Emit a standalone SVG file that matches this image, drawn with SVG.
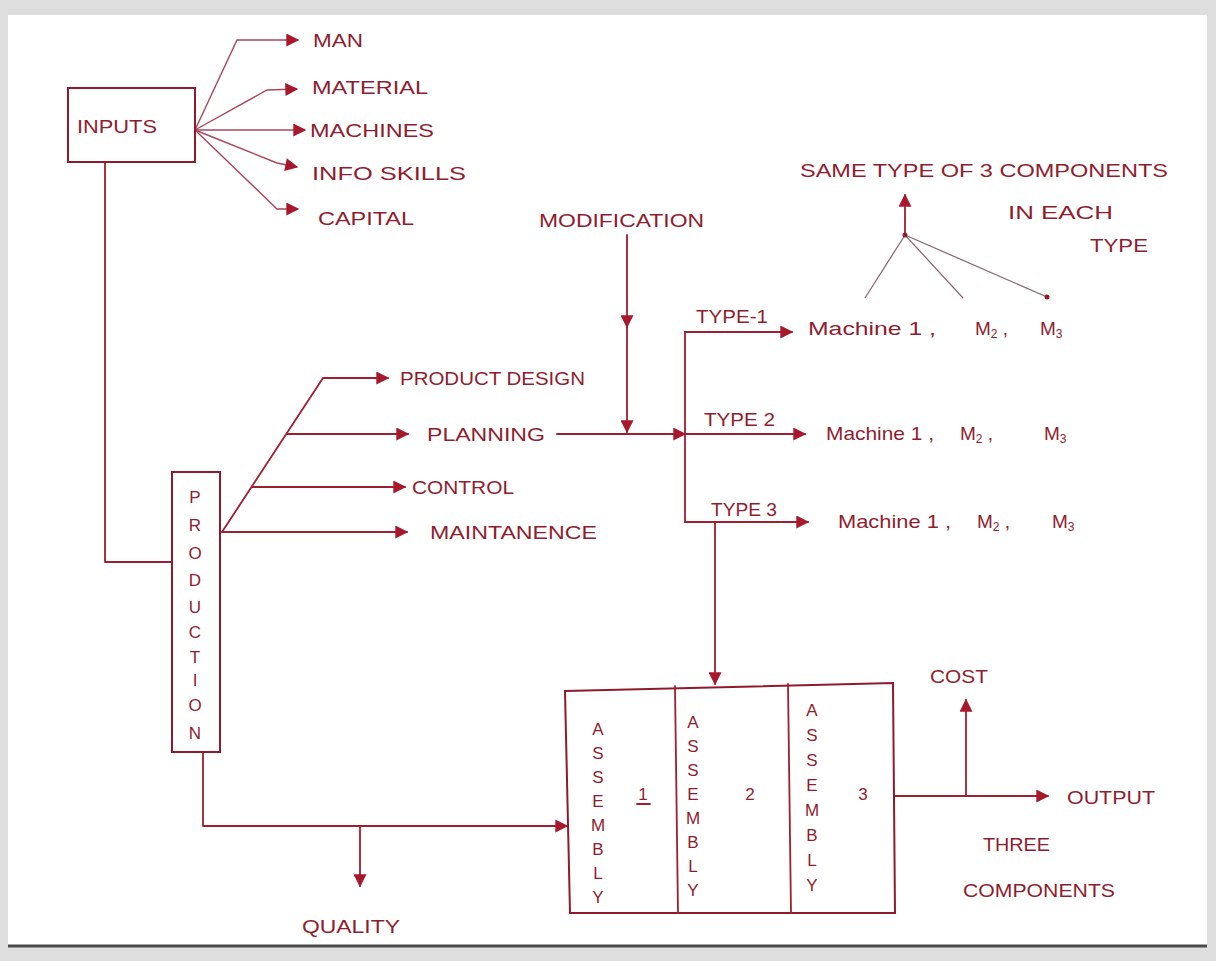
<svg xmlns="http://www.w3.org/2000/svg" width="1216" height="961" viewBox="0 0 1216 961">
<style>
.ln{stroke:#9e1f30;stroke-width:1.8;fill:none;stroke-linecap:round;stroke-linejoin:round}
.lf{stroke:#a8475a;stroke-width:1.4;fill:none}
.lg{stroke:#8d6b73;stroke-width:1.3;fill:none}
.bx{stroke:#8e1a2c;stroke-width:2;fill:#ffffff}
.t{font-family:"Liberation Sans",Arial,sans-serif;fill:#8e1d2f;font-size:18px}
.tc{font-family:"Liberation Sans",Arial,sans-serif;fill:#8e1d2f;font-size:17px;text-anchor:middle}
.tm{font-family:"Liberation Sans",Arial,sans-serif;fill:#8e1d2f;font-size:19px}
.sub{font-size:12px}
.ar{marker-end:url(#ah)}
</style>
<defs>
<marker id="ah" viewBox="0 0 10 10" refX="9" refY="5" markerWidth="15" markerHeight="13" markerUnits="userSpaceOnUse" orient="auto">
<path d="M0,0 L10,5 L0,10 z" fill="#a8182c"/>
</marker>
</defs>
<rect x="0" y="0" width="1216" height="961" fill="#dedede"/>
<rect x="8" y="15" width="1199" height="930" fill="#ffffff"/>
<line x1="8" y1="946" x2="1207" y2="946" stroke="#4a4a4a" stroke-width="3"/>

<g id="connectors">
<polyline class="lf ar" points="195,130 237,40 298,40"/>
<polyline class="lf ar" points="195,130 267,90 297,89"/>
<polyline class="lf ar" points="195,130 305,130"/>
<polyline class="lf ar" points="195,130 277,163 297,167"/>
<polyline class="lf ar" points="195,130 277,209 298,209"/>
<polyline class="ln" points="105,162 105,562 172,562"/>
<polyline class="ln ar" points="222,532 323,378 388,378"/>
<polyline class="ln ar" points="287,434 408,434"/>
<polyline class="ln ar" points="252,487 405,487"/>
<polyline class="ln ar" points="222,532 407,532"/>
<polyline class="ln ar" points="557,434 685,434"/>
<polyline class="ln ar" points="627,235 627,327"/>
<polyline class="ln ar" points="627,320 627,432"/>
<polyline class="ln" points="685,332 685,522"/>
<polyline class="ln ar" points="685,332 792,332"/>
<polyline class="ln ar" points="685,434 805,434"/>
<polyline class="ln ar" points="685,522 808,522"/>
<polyline class="ln ar" points="715,522 715,684"/>
<polyline class="ln ar" points="203,752 203,826 567,826"/>
<polyline class="ln ar" points="360,826 360,886"/>
<polyline class="ln ar" points="893,796 1048,796"/>
<polyline class="ln ar" points="966,796 966,700"/>
<polyline class="ln ar" points="905,235 905,195"/>
<polyline class="lg" points="865,298 905,235 963,298"/>
<polyline class="lg" points="905,235 1047,297"/>
<circle cx="905" cy="235" r="2.5" fill="#8e1d2f"/>
<circle cx="1047" cy="297" r="2.5" fill="#8e1d2f"/>
</g>

<g id="inputs">
<rect class="bx" x="68" y="88" width="127" height="74"/>
<text class="t" x="77" y="133" textLength="80" lengthAdjust="spacingAndGlyphs">INPUTS</text>
</g>
<g id="man"><text class="t" x="313" y="47" textLength="50" lengthAdjust="spacingAndGlyphs">MAN</text></g>
<g id="material"><text class="t" x="312" y="94" textLength="116" lengthAdjust="spacingAndGlyphs">MATERIAL</text></g>
<g id="machines"><text class="t" x="310" y="137" textLength="124" lengthAdjust="spacingAndGlyphs">MACHINES</text></g>
<g id="info-skills"><text class="t" x="312" y="180" textLength="154" lengthAdjust="spacingAndGlyphs">INFO SKILLS</text></g>
<g id="capital"><text class="t" x="318" y="225" textLength="96" lengthAdjust="spacingAndGlyphs">CAPITAL</text></g>

<g id="production">
<rect class="bx" x="172" y="472" width="48" height="280"/>
<text class="tc" x="195" y="503">P</text>
<text class="tc" x="195" y="531">R</text>
<text class="tc" x="195" y="559">O</text>
<text class="tc" x="195" y="586">D</text>
<text class="tc" x="195" y="613">U</text>
<text class="tc" x="195" y="638">C</text>
<text class="tc" x="195" y="663">T</text>
<text class="tc" x="195" y="686">I</text>
<text class="tc" x="195" y="711">O</text>
<text class="tc" x="195" y="739">N</text>
</g>

<g id="product-design"><text class="t" x="400" y="385" textLength="185" lengthAdjust="spacingAndGlyphs">PRODUCT DESIGN</text></g>
<g id="planning"><text class="t" x="427" y="441" textLength="118" lengthAdjust="spacingAndGlyphs">PLANNING</text></g>
<g id="control"><text class="t" x="412" y="494" textLength="102" lengthAdjust="spacingAndGlyphs">CONTROL</text></g>
<g id="maintanence"><text class="t" x="430" y="539" textLength="167" lengthAdjust="spacingAndGlyphs">MAINTANENCE</text></g>
<g id="modification"><text class="t" x="539" y="227" textLength="165" lengthAdjust="spacingAndGlyphs">MODIFICATION</text></g>

<g id="type-1">
<text class="t" x="696" y="323" font-size="15" textLength="72" lengthAdjust="spacingAndGlyphs">TYPE-1</text>
<text class="tm" x="808" y="335" textLength="128" lengthAdjust="spacingAndGlyphs">Machine 1 ,</text>
<text class="tm" x="975" y="335">M<tspan class="sub" dy="3">2</tspan><tspan dy="-3"> ,</tspan></text>
<text class="tm" x="1040" y="335">M<tspan class="sub" dy="3">3</tspan></text>
</g>
<g id="type-2">
<text class="t" x="704" y="426" font-size="15" textLength="71" lengthAdjust="spacingAndGlyphs">TYPE 2</text>
<text class="tm" x="826" y="440" textLength="108" lengthAdjust="spacingAndGlyphs">Machine 1 ,</text>
<text class="tm" x="960" y="440">M<tspan class="sub" dy="3">2</tspan><tspan dy="-3"> ,</tspan></text>
<text class="tm" x="1044" y="440">M<tspan class="sub" dy="3">3</tspan></text>
</g>
<g id="type-3">
<text class="t" x="711" y="516" font-size="15" textLength="66" lengthAdjust="spacingAndGlyphs">TYPE 3</text>
<text class="tm" x="838" y="528" textLength="113" lengthAdjust="spacingAndGlyphs">Machine 1 ,</text>
<text class="tm" x="977" y="528">M<tspan class="sub" dy="3">2</tspan><tspan dy="-3"> ,</tspan></text>
<text class="tm" x="1052" y="528">M<tspan class="sub" dy="3">3</tspan></text>
</g>

<g id="same-type-note">
<text class="t" x="800" y="177" font-size="17" textLength="368" lengthAdjust="spacingAndGlyphs">SAME TYPE OF 3 COMPONENTS</text>
<text class="t" x="1008" y="219" font-size="17" textLength="105" lengthAdjust="spacingAndGlyphs">IN EACH</text>
<text class="t" x="1090" y="252" font-size="17" textLength="58" lengthAdjust="spacingAndGlyphs">TYPE</text>
</g>

<g id="assembly">
<path class="bx" d="M565,691 L893,683 L895,913 L570,913 Z"/>
<line class="ln" x1="675" y1="686" x2="678" y2="913"/>
<line class="ln" x1="788" y1="684" x2="791" y2="913"/>
<text class="tc" x="598" y="735">A</text>
<text class="tc" x="598" y="759">S</text>
<text class="tc" x="598" y="783">S</text>
<text class="tc" x="598" y="807">E</text>
<text class="tc" x="598" y="831">M</text>
<text class="tc" x="598" y="855">B</text>
<text class="tc" x="598" y="879">L</text>
<text class="tc" x="598" y="903">Y</text>
<text class="tc" x="693" y="728">A</text>
<text class="tc" x="693" y="752">S</text>
<text class="tc" x="693" y="776">S</text>
<text class="tc" x="693" y="800">E</text>
<text class="tc" x="693" y="824">M</text>
<text class="tc" x="693" y="848">B</text>
<text class="tc" x="693" y="872">L</text>
<text class="tc" x="693" y="896">Y</text>
<text class="tc" x="812" y="716">A</text>
<text class="tc" x="812" y="741">S</text>
<text class="tc" x="812" y="766">S</text>
<text class="tc" x="812" y="791">E</text>
<text class="tc" x="812" y="816">M</text>
<text class="tc" x="812" y="841">B</text>
<text class="tc" x="812" y="866">L</text>
<text class="tc" x="812" y="891">Y</text>
<text class="tc" x="643" y="800" font-size="20">1</text>
<line class="ln" x1="637" y1="804" x2="650" y2="804" stroke-width="1.3"/>
<text class="tc" x="750" y="800" font-size="20">2</text>
<text class="tc" x="863" y="800" font-size="20">3</text>
</g>

<g id="quality"><text class="t" x="302" y="933" font-size="17" textLength="98" lengthAdjust="spacingAndGlyphs">QUALITY</text></g>
<g id="cost"><text class="t" x="930" y="683" font-size="17" textLength="58" lengthAdjust="spacingAndGlyphs">COST</text></g>
<g id="output"><text class="t" x="1067" y="804" font-size="17" textLength="88" lengthAdjust="spacingAndGlyphs">OUTPUT</text></g>
<g id="three-components">
<text class="t" x="983" y="851" font-size="17" textLength="67" lengthAdjust="spacingAndGlyphs">THREE</text>
<text class="t" x="963" y="897" font-size="17" textLength="152" lengthAdjust="spacingAndGlyphs">COMPONENTS</text>
</g>
</svg>
